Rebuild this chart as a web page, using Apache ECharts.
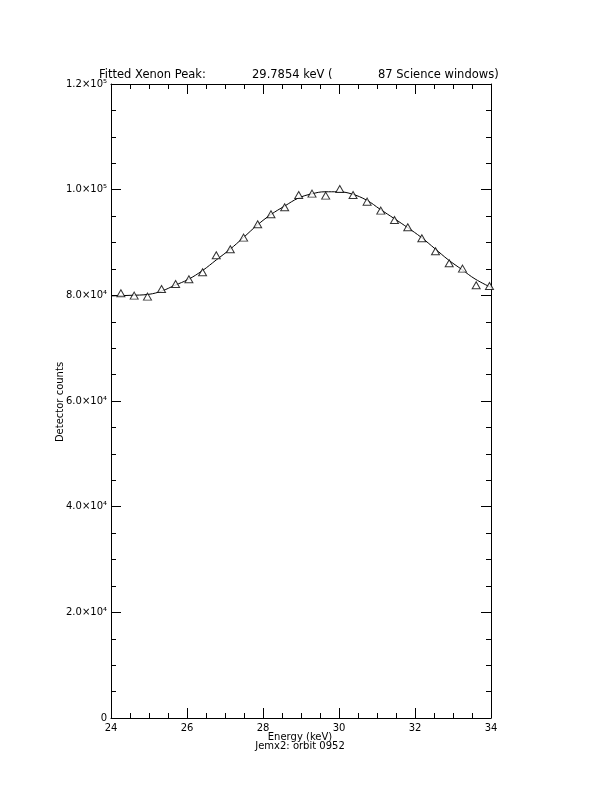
<!DOCTYPE html>
<html>
<head>
<meta charset="utf-8">
<script src="https://cdn.jsdelivr.net/npm/echarts@6/dist/echarts.min.js"></script>
<style>html,body{margin:0;padding:0;background:#fff;}#c{width:612px;height:792px;}</style>
</head>
<body>
<div id="c"></div>
<script>
// Measured data points (triangles)
var dataEnergy = [24.26, 24.61, 24.96, 25.33, 25.70, 26.05, 26.41, 26.77, 27.14, 27.49,
  27.86, 28.21, 28.57, 28.94, 29.29, 29.65, 30.02, 30.37, 30.74, 31.10,
  31.46, 31.81, 32.18, 32.54, 32.90, 33.25, 33.61, 33.96];
var dataCounts = [80390, 79940, 79750, 81200, 82150, 83040, 84360, 87580, 88710, 90920,
  93450, 95340, 96660, 99000, 99250, 98870, 100130, 99000, 97730, 96030,
  94260, 92880, 90800, 88340, 86070, 85050, 81900, 81770];
// Fitted curve
var fitEnergy = [24.0, 24.5, 25.0, 25.33, 25.68, 26.03, 26.41, 26.77, 27.13, 27.48,
  27.85, 28.21, 28.57, 28.93, 29.28, 29.63, 29.98, 30.33, 30.73, 31.08,
  31.46, 31.81, 32.16, 32.53, 32.88, 33.23, 33.58, 34.0];
var fitCounts = [79900, 80000, 80200, 80800, 81900, 83000, 84700, 86700, 88700, 90900,
  93300, 95300, 96900, 98400, 99200, 99600, 99600, 99200, 98000, 96300,
  94500, 92800, 91000, 88800, 86700, 84900, 83100, 81500];
var yTickLabels = ['0', '2.0\u00d710\u2074', '4.0\u00d710\u2074', '6.0\u00d710\u2074', '8.0\u00d710\u2074', '1.0\u00d710\u2075', '1.2\u00d710\u2075'];
var xTickLabels = ['24', '26', '28', '30', '32', '34'];
var titleParts = ['Fitted Xenon Peak:', '29.7854 keV (', '87 Science windows)'];
var xTitle = 'Energy (keV)';
var subTitle = 'Jemx2: orbit 0952';
var yTitle = 'Detector counts';

var FONT = 'DejaVu Sans';
var pts = dataEnergy.map(function (e, i) { return [e, dataCounts[i]]; });
var fit = fitEnergy.map(function (e, i) { return [e, fitCounts[i]]; });

function xAx(pos, show) {
  return {
    type: 'value', position: pos, min: 24, max: 34, interval: 2,
    axisLine: { show: true, onZero: false, lineStyle: { color: '#000', width: 1 } },
    axisTick: { show: true, inside: true, length: 10, lineStyle: { color: '#000' } },
    minorTick: { show: true, splitNumber: 4, length: 5, lineStyle: { color: '#000' } },
    splitLine: { show: false }, minorSplitLine: { show: false },
    axisLabel: { show: show, color: '#000', fontFamily: FONT, fontSize: 10, margin: 5,
      formatter: function (v) { return xTickLabels[Math.round((v - 24) / 2)]; } }
  };
}
function yAx(pos, show) {
  return {
    type: 'value', position: pos, min: 0, max: 120000, interval: 20000,
    axisLine: { show: true, onZero: false, lineStyle: { color: '#000', width: 1 } },
    axisTick: { show: true, inside: true, length: 10, lineStyle: { color: '#000' } },
    minorTick: { show: true, splitNumber: 4, length: 5, lineStyle: { color: '#000' } },
    splitLine: { show: false }, minorSplitLine: { show: false },
    axisLabel: { show: show, color: '#000', fontFamily: FONT, fontSize: 10, margin: 4,
      formatter: function (v) { return yTickLabels[Math.round(v / 20000)]; } }
  };
}

var chart = echarts.init(document.getElementById('c'), null, { renderer: 'canvas' });
chart.setOption({
  backgroundColor: '#fff',
  animation: false,
  grid: { left: 111, right: 121, top: 84, bottom: 74, containLabel: false },
  xAxis: [xAx('bottom', true), xAx('top', false)],
  yAxis: [yAx('left', true), yAx('right', false)],
  series: [
    { type: 'line', data: fit, smooth: 0.4, showSymbol: false, symbol: 'none',
      lineStyle: { color: '#000', width: 1 }, z: 2 },
    { type: 'scatter', data: pts, symbol: 'triangle', symbolSize: [8, 7],
      itemStyle: { color: '#fff', borderColor: '#000', borderWidth: 1 }, z: 3 }
  ],
  graphic: [
    { type: 'text', left: 99, top: 69, style: { text: titleParts[0], font: '11.5px "' + FONT + '"', fill: '#000' } },
    { type: 'text', left: 252, top: 69, style: { text: titleParts[1], font: '11.5px "' + FONT + '"', fill: '#000' } },
    { type: 'text', left: 378, top: 69, style: { text: titleParts[2], font: '11.5px "' + FONT + '"', fill: '#000' } },
    { type: 'text', x: 300, y: 737, style: { text: xTitle, font: '10px "' + FONT + '"', fill: '#000', align: 'center', verticalAlign: 'middle' } },
    { type: 'text', x: 300, y: 746, style: { text: subTitle, font: '10px "' + FONT + '"', fill: '#000', align: 'center', verticalAlign: 'middle' } },
    { type: 'text', x: 60, y: 402, rotation: Math.PI / 2, style: { text: yTitle, font: '10px "' + FONT + '"', fill: '#000', align: 'center', verticalAlign: 'middle' } }
  ]
});
</script>
</body>
</html>
